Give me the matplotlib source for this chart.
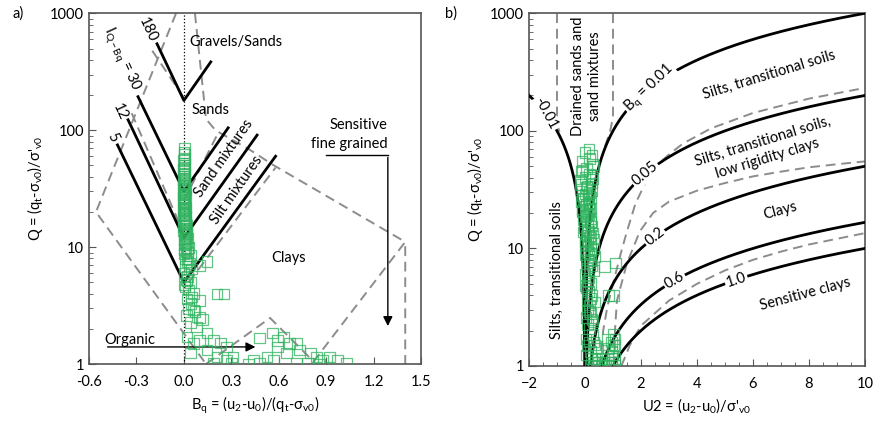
import numpy as np
import matplotlib.pyplot as plt
from matplotlib.ticker import FixedLocator, NullFormatter, MultipleLocator, LogLocator

plt.rcParams['font.family'] = ['Lato', 'DejaVu Sans']
plt.rcParams['mathtext.fontset'] = 'custom'
plt.rcParams['mathtext.rm'] = 'Lato'
plt.rcParams['mathtext.it'] = 'Lato'
plt.rcParams['mathtext.default'] = 'regular'
plt.rcParams['mathtext.fallback'] = 'stixsans'

# CPTu data (Bq, Q)
bq_data = [0.002, 0.004, -0.002, 0.005, 0.001, -0.003, 0.006, 0.0, -0.004, 0.007, 0.002, -0.005, 0.005,
           0.001, -0.003, 0.008, 0.004, -0.005, 0.006, 0.0, 0.009, -0.004, 0.005, 0.003, 0.012, -0.004,
           0.011, 0.006, 0.015, -0.002, 0.009, 0.02, 0.003, 0.012, 0.025, 0.0, 0.018, 0.01, 0.03, 0.005,
           0.022, 0.04, 0.012,
           0.0, 0.003, 0.006, -0.002, 0.004, 0.007, -0.004, 0.002, 0.008, 0.004, -0.002, 0.006, 0.002,
           0.008, -0.005, 0.006, 0.001, 0.012, 0.007, -0.004, 0.016, 0.008, 0.002, 0.021, 0.014, 0.0,
           0.02, 0.035, 0.01, 0.05, 0.0, 0.025, 0.015, 0.04, 0.005, 0.03, 0.06, 0.02, 0.045, 0.03,
           0.07, 0.015,
           0.026, 0.1, 0.146, 0.007, 0.05, 0.02, 0.1, 0.04, 0.08, 0.12, 0.146, 0.1, 0.185, 0.23, 0.27,
           0.146, 0.04, 0.21, 0.27, 0.31, 0.06, 0.02, 0.1, 0.06, 0.21, 0.254, 0.185, 0.3,
           0.48, 0.525, 0.59, 0.63, 0.67, 0.59, 0.715, 0.73, 0.65, 0.565, 0.8, 0.84, 0.88, 0.92, 0.97,
           1.03, 0.78, 0.86, 0.71, 0.44, 0.41, 0.56, 0.48]
q_data = [70, 62, 55, 52, 48, 45, 42, 40, 38, 36, 34, 32, 30, 29, 28, 27, 26, 25, 24, 23, 22, 21, 20,
          19, 18, 17.5, 17, 16, 15.5, 15, 14, 13.5, 13, 12.5, 12, 11.5, 11, 10.5, 10, 9.5, 9, 8.5, 8,
          65, 58, 50, 46, 43, 39, 35, 33, 31, 28.5, 26.5, 24.5, 23.5, 21.5, 20.5, 19.5, 18.5, 16.5,
          14.5, 13.8, 12.8, 11.8, 10.8, 9.8, 9.2, 8.8, 7.5, 7.2, 6.8, 6.5, 6.0, 5.6, 5.3, 5.0, 4.8,
          4.3, 4.0, 3.6, 3.3, 3.0, 2.8, 2.6,
          7.8, 7.0, 7.5, 4.6, 3.75, 5.2, 2.5, 2.25, 2.07, 2.4, 1.84, 1.6, 1.6, 1.51, 1.4,
          1.32, 1.24, 1.15, 1.08, 1.15, 1.5, 1.7, 3.5, 2.9, 3.97, 3.97, 1.02, 1.02,
          1.02, 1.15, 1.6, 1.7, 1.5, 1.4, 1.5, 1.32, 1.24, 1.08, 1.24, 1.15, 1.08, 1.15, 1.08,
          1.02, 1.02, 1.0, 1.02, 1.08, 1.0, 1.84, 1.67]

# I_Q-Bq lines: vertex at Bq = 0, Q = I
i_values = [5, 12, 30, 180]
i_left_bq = [-0.42, -0.353, -0.29, -0.17]
i_left_q = [75, 123, 194, 550]
i_right_bq = [0.58, 0.463, 0.28, 0.17]
i_right_q = [60, 91, 105, 385]

# Robertson (1990) zone boundaries
zone_bq = [[-0.05, -0.556, 0.14],
           [0.14, 0.545, 0.82, 1.4, 1.4],
           [0.07, 0.14, 0.2, 0.418, 0.564, 1.4],
           [0.03, 0.58],
           [-0.2, 0.0],
           [-0.33, 0.0],
           [0.0, 0.22]]
zone_q = [[1000, 20, 1],
          [1, 2.48, 1.05, 11.1, 1],
          [1000, 125, 100, 68, 50.6, 11.1],
          [5, 48],
          [480, 190],
          [140, 13],
          [25, 97]]

# Bq contours for panel b
bq_contours = [-0.01, 0.01, 0.05, 0.2, 0.6, 1.0]
bq_labels = ['-0.01', '$B_q$ = 0.01', '0.05', '0.2', '0.6', '1.0']
bq_label_u2 = [-1.4, 2.3, 2.15, 2.5, 3.2, 5.4]
bq_label_rot = [-62, 44, 40, 38, 30, 18]

# Schneider et al. (2008) boundaries
sch_u2 = [[-1, -1, -0.95, -0.85],
          [1, 1, 0.9, 0.7],
          [0.55, 0.65, 0.8, 1.0, 1.3, 1.5, 1.8, 2.2, 2.6, 3.0, 3.5, 4.5, 6, 8, 10],
          [1.05, 1.07, 1.14, 1.5, 1.96, 2.43, 3, 4, 5, 6, 7, 8, 9, 10],
          [1.3, 1.6, 2, 3, 4, 5, 6, 7, 8, 10]]
sch_q = [[1000, 130, 105, 88],
         [1000, 130, 100, 72],
         [1.0, 2, 3.2, 5, 9.5, 14, 24, 38, 52, 63, 78, 105, 142, 188, 232],
         [1.0, 2, 3.6, 7.5, 14, 20, 25, 31, 36, 41, 45, 49, 52, 55],
         [1.0, 1.5, 2.2, 3.6, 5, 6.5, 8, 9.4, 10.8, 13.5]]

green = '#2fb35f'
grey = '#8c8c8c'
fs = 10.5

fig = plt.figure(figsize=(8.77, 4.28), dpi=100)
ax1 = fig.add_axes([0.1015, 0.1495, 0.3786, 0.819])
ax2 = fig.add_axes([0.6032, 0.1449, 0.3831, 0.824])

for ax in (ax1, ax2):
    ax.set_yscale('log')
    ax.set_ylim(1, 1000)
    ax.yaxis.set_major_locator(FixedLocator([1, 10, 100, 1000]))
    ax.set_yticklabels(['1', '10', '100', '1000'])
    ax.yaxis.set_minor_locator(LogLocator(subs=np.arange(2, 10)))
    ax.yaxis.set_minor_formatter(NullFormatter())
    ax.tick_params(which='both', direction='in', labelsize=fs, color='#555555')
    ax.tick_params(which='major', length=5)
    ax.tick_params(which='minor', length=3)
    ax.tick_params(axis='x', pad=8)
    for s in ax.spines.values():
        s.set_color('#555555')
        s.set_linewidth(1.2)
    ax.set_ylabel("Q = (q$_t$-σ$_{v0}$)/σ'$_{v0}$", fontsize=fs)

# ---------- panel a ----------
ax1.set_xlim(-0.6, 1.5)
ax1.xaxis.set_major_locator(MultipleLocator(0.3))
ax1.xaxis.set_major_formatter(plt.FuncFormatter(lambda v, p: f'{v:.1f}'))
ax1.set_xlabel('$B_q$ = (u$_2$-u$_0$)/(q$_t$-σ$_{v0}$)', fontsize=fs)

ax1.plot([0, 0], [1, 1000], ls=':', color='black', lw=0.9, zorder=2)
for zb, zq in zip(zone_bq, zone_q):
    ax1.plot(zb, zq, ls=(0, (5, 3)), color=grey, lw=1.4, zorder=2)
for i, lb, lq, rb, rq in zip(i_values, i_left_bq, i_left_q, i_right_bq, i_right_q):
    ax1.plot([lb, 0, rb], [lq, i, rq], color='black', lw=2, zorder=3)

ax1.scatter(bq_data, q_data, marker='s', s=60, facecolors='none', edgecolors=green,
            linewidths=0.9, alpha=0.75, zorder=4)

ax1.text(-0.227, 725, '180', rotation=-65, ha='center', va='center', fontsize=fs)
ax1.text(-0.395, 410, 'I$_{Q-Bq}$ = 30', rotation=-65, ha='center', va='center', fontsize=fs)
ax1.text(-0.404, 143, '12', rotation=-65, ha='center', va='center', fontsize=fs)
ax1.text(-0.45, 88, '5', rotation=-65, ha='center', va='center', fontsize=fs)
ax1.text(0.032, 570, 'Gravels/Sands', ha='left', va='center', fontsize=fs)
ax1.text(0.05, 150, 'Sands', ha='left', va='center', fontsize=fs)
ax1.text(0.25, 58, 'Sand mixtures', rotation=55, ha='center', va='center', fontsize=fs)
ax1.text(0.335, 31, 'Silt mixtures', rotation=55, ha='center', va='center', fontsize=fs)
ax1.text(0.66, 8.1, 'Clays', ha='center', va='center', fontsize=fs)
ax1.text(1.29, 92, 'Sensitive\nfine grained', ha='right', va='center', fontsize=fs,
         multialignment='right', linespacing=1.4)
ax1.plot([0.9, 1.29], [62, 62], color='black', lw=1)
ax1.annotate('', xy=(1.29, 2.0), xytext=(1.29, 62),
             arrowprops=dict(arrowstyle='-|>', color='black', lw=1, mutation_scale=14))
ax1.text(-0.5, 1.6, 'Organic', ha='left', va='center', fontsize=fs)
ax1.annotate('', xy=(0.47, 1.4), xytext=(-0.5, 1.4),
             arrowprops=dict(arrowstyle='-|>', color='black', lw=1, mutation_scale=14))
fig.text(0.014, 0.968, 'a)', fontsize=fs, va='center')

# ---------- panel b ----------
ax2.set_xlim(-2, 10)
ax2.xaxis.set_major_locator(MultipleLocator(2))
ax2.xaxis.set_minor_locator(MultipleLocator(0.5))
ax2.set_xlabel("U2 = (u$_2$-u$_0$)/σ'$_{v0}$", fontsize=fs)

for su, sq in zip(sch_u2, sch_q):
    ax2.plot(su, sq, ls=(0, (5, 3)), color=grey, lw=1.4, zorder=2)

for b, lab, lu, rot in zip(bq_contours, bq_labels, bq_label_u2, bq_label_rot):
    if b < 0:
        u = np.linspace(-2, b, 400)
    else:
        u = np.linspace(b, 10, 400)
    ax2.plot(u, u / b, color='black', lw=2, zorder=3)
    ax2.text(lu, lu / b, lab, rotation=rot, ha='center', va='center', fontsize=fs, zorder=5,
             bbox=dict(facecolor='white', edgecolor='none', pad=1))

u2_data = [b * q for b, q in zip(bq_data, q_data)]
ax2.scatter(u2_data, q_data, marker='s', s=60, facecolors='none', edgecolors=green,
            linewidths=0.9, alpha=0.75, zorder=4)

ax2.text(0.05, 290, 'Drained sands and\nsand mixtures', rotation=90, ha='center', va='center',
         fontsize=fs, linespacing=1.3)
ax2.text(-1.0, 6.6, 'Silts, transitional soils', rotation=90, ha='center', va='center', fontsize=fs)
ax2.text(6.57, 300, 'Silts, transitional soils', rotation=17, ha='center', va='center', fontsize=fs)
ax2.text(6.43, 69, 'Silts, transitional soils,\nlow rigidity clays', rotation=17, ha='center',
         va='center', fontsize=fs, linespacing=1.4)
ax2.text(6.96, 21, 'Clays', rotation=15, ha='center', va='center', fontsize=fs)
ax2.text(7.86, 4.1, 'Sensitive clays', rotation=15, ha='center', va='center', fontsize=fs)
fig.text(0.507, 0.968, 'b)', fontsize=fs, va='center')

fig.savefig('out.png', dpi=100)
